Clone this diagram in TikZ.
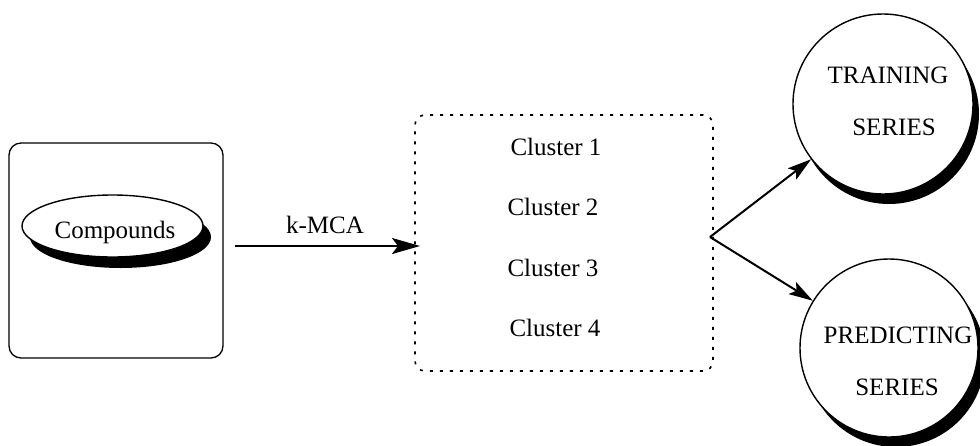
\documentclass[tikz,border=0pt]{standalone}
\usepackage{fontspec}
\setmainfont{Liberation Serif}
\usetikzlibrary{arrows.meta,shapes.geometric}
\begin{document}
\begin{tikzpicture}[x=1pt,y=-1pt,
  txt/.style={font=\fontsize{25}{29}\selectfont, inner sep=0pt},
  bigarrow/.style={line width=2.5pt,-{Stealth[length=28pt,width=16pt,inset=6pt]}},
  forkarrow/.style={line width=2pt,-{Stealth[length=24pt,width=14pt,inset=5pt]}},
  solidbox/.style={draw, line width=1.3pt, rounded corners=12pt, inner sep=0pt},
  dotbox/.style={draw, line width=1.6pt, dash pattern=on 3pt off 7pt, rounded corners=10pt, inner sep=0pt},
  shadowed/.style={draw, fill=white, line width=1.4pt, inner sep=0pt}]
\useasboundingbox (0,0) rectangle (980,445);
% left box with ellipse
\node[solidbox, minimum width=214pt, minimum height=215pt] (box) at (116,250.5) {};
\fill (120.5,237) ellipse [x radius=90.5, y radius=31];
\node[shadowed, ellipse, minimum width=181pt, minimum height=62pt] (ell) at (112.5,226) {};
\node[txt] (comp) at (115,232) {Compounds};
% cluster box
\node[dotbox, minimum width=298pt, minimum height=256pt] (clus) at (564,243) {};
\node[txt] (c1) at (556,147) {Cluster 1};
\node[txt] (c2) at (553,207) {Cluster 2};
\node[txt] (c3) at (553,268) {Cluster 3};
\node[txt] (c4) at (555,328) {Cluster 4};
% k-MCA arrow
\coordinate (kstart) at (235,246);
\coordinate (kend) at (420,246);
\draw[bigarrow] (kstart) -- (kend);
\node[txt] (klab) at (325,225) {k-MCA};
% circles
\fill (889,114) circle [radius=90];
\node[shadowed, circle, minimum size=180pt] (train) at (883,104) {};
\node[txt] (t1) at (888,75) {TRAINING};
\node[txt] (t2) at (894,127) {SERIES};
\fill (896,358) circle [radius=89];
\node[shadowed, circle, minimum size=178pt] (pred) at (889,348) {};
\node[txt] (p1) at (898,335) {PREDICTING};
\node[txt] (p2) at (897,387) {SERIES};
% fork arrows
\coordinate (fork) at (710,237);
\draw[forkarrow] (fork) -- (train);
\draw[forkarrow] (fork) -- (pred);
\end{tikzpicture}
\end{document}
